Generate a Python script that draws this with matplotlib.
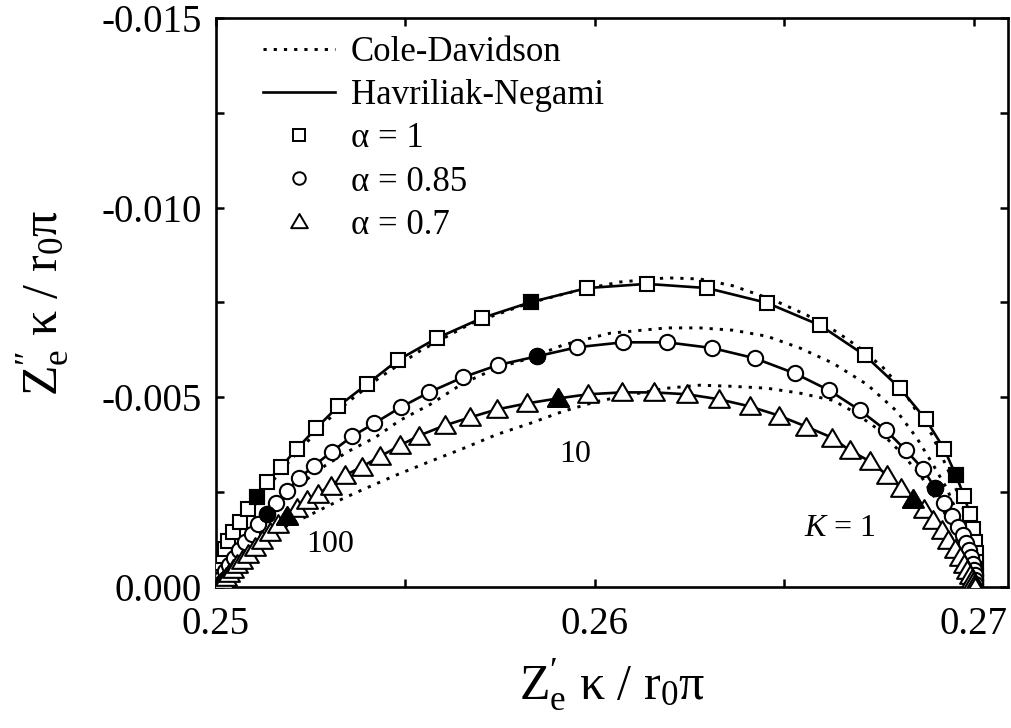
import matplotlib
matplotlib.use("Agg")
import matplotlib.pyplot as plt
from matplotlib.lines import Line2D
from matplotlib.path import Path
from matplotlib.ticker import FixedLocator, FormatStrFormatter
import numpy as np

plt.rcParams["font.family"] = ["Liberation Serif", "DejaVu Serif"]
plt.rcParams["mathtext.fontset"] = "custom"
plt.rcParams["mathtext.rm"] = "Liberation Serif"
plt.rcParams["mathtext.it"] = "Liberation Serif:italic"
plt.rcParams["axes.unicode_minus"] = False

# ---- Havriliak-Negami curves with computed points (alpha = 1, 0.85, 0.7) ----
sq_x = [0.25000, 0.25003, 0.25003, 0.25005, 0.25005, 0.25008, 0.25013, 0.25018,
        0.25024, 0.25032, 0.25045, 0.25063, 0.25084, 0.25108, 0.25135, 0.25172,
        0.25214, 0.25264, 0.25322, 0.25398, 0.25480, 0.25583, 0.25702, 0.25831,
        0.25979, 0.26137, 0.26296, 0.26454, 0.26594, 0.26712, 0.26805, 0.26873,
        0.26921, 0.26952, 0.26974, 0.26989, 0.26997, 0.27003, 0.27005, 0.27005,
        0.27005, 0.27005, 0.27005, 0.27005, 0.27005]
sq_y = [0.0, -0.00005, -0.00013, -0.00024, -0.00034, -0.00048, -0.00063, -0.00082,
        -0.00101, -0.00122, -0.00146, -0.00172, -0.00206, -0.00238, -0.00278, -0.00317,
        -0.00365, -0.00418, -0.00476, -0.00534, -0.00598, -0.00656, -0.00709, -0.00751,
        -0.00788, -0.00799, -0.00788, -0.00749, -0.00690, -0.00611, -0.00524, -0.00442,
        -0.00365, -0.00296, -0.00241, -0.00193, -0.00153, -0.00119, -0.00090, -0.00066,
        -0.00048, -0.00032, -0.00021, -0.00011, -0.00003]
sq_filled = [13, 23, 33]          # K = 100, 10, 1

ci_x = [0.25000, 0.25003, 0.25005, 0.25011, 0.25016, 0.25024, 0.25034, 0.25047,
        0.25061, 0.25077, 0.25095, 0.25111, 0.25135, 0.25158, 0.25187, 0.25219,
        0.25259, 0.25306, 0.25359, 0.25417, 0.25488, 0.25562, 0.25652, 0.25744,
        0.25847, 0.25953, 0.26074, 0.26190, 0.26309, 0.26422, 0.26528, 0.26617,
        0.26699, 0.26768, 0.26821, 0.26865, 0.26897, 0.26921, 0.26942, 0.26958,
        0.26971, 0.26979, 0.26987, 0.26992, 0.26997, 0.27000, 0.27003, 0.27003,
        0.27003]
ci_y = [0.0, -0.00005, -0.00013, -0.00019, -0.00026, -0.00042, -0.00058, -0.00077,
        -0.00098, -0.00119, -0.00140, -0.00167, -0.00193, -0.00222, -0.00254, -0.00286,
        -0.00320, -0.00357, -0.00397, -0.00431, -0.00474, -0.00513, -0.00553, -0.00585,
        -0.00608, -0.00632, -0.00645, -0.00645, -0.00630, -0.00603, -0.00563, -0.00519,
        -0.00466, -0.00413, -0.00360, -0.00312, -0.00262, -0.00222, -0.00188, -0.00159,
        -0.00138, -0.00116, -0.00098, -0.00079, -0.00061, -0.00045, -0.00032, -0.00019,
        -0.00008]
ci_filled = [12, 24, 36]

tr_x = [0.25003, 0.25008, 0.25013, 0.25018, 0.25026, 0.25034, 0.25045, 0.25055,
        0.25069, 0.25084, 0.25103, 0.25121, 0.25142, 0.25164, 0.25187, 0.25214,
        0.25240, 0.25269, 0.25303, 0.25340, 0.25385, 0.25433, 0.25485, 0.25536,
        0.25604, 0.25670, 0.25741, 0.25821, 0.25902, 0.25982, 0.26071, 0.26156,
        0.26243, 0.26327, 0.26409, 0.26485, 0.26557, 0.26625, 0.26673, 0.26726,
        0.26770, 0.26807, 0.26839, 0.26868, 0.26892, 0.26916, 0.26931, 0.26950,
        0.26963, 0.26974, 0.26982, 0.26989, 0.26995, 0.26997, 0.27000, 0.27003]
tr_y = [-0.00003, -0.00008, -0.00013, -0.00019, -0.00026, -0.00037, -0.00048, -0.00061,
        -0.00071, -0.00087, -0.00106, -0.00124, -0.00146, -0.00167, -0.00188, -0.00209,
        -0.00230, -0.00246, -0.00267, -0.00294, -0.00317, -0.00344, -0.00373, -0.00399,
        -0.00426, -0.00447, -0.00468, -0.00484, -0.00497, -0.00508, -0.00513, -0.00513,
        -0.00508, -0.00495, -0.00476, -0.00452, -0.00423, -0.00394, -0.00360, -0.00331,
        -0.00296, -0.00262, -0.00233, -0.00206, -0.00177, -0.00151, -0.00124, -0.00101,
        -0.00079, -0.00061, -0.00045, -0.00032, -0.00021, -0.00013, -0.00005, 0.0]
tr_filled = [14, 28, 42]

# ---- Cole-Davidson curves ----
cd1_x = [0.25000, 0.25005, 0.25013, 0.25024, 0.25037, 0.25055, 0.25079, 0.25116,
         0.25169, 0.25222, 0.25288, 0.25354, 0.25433, 0.25538, 0.25670, 0.25828,
         0.25960, 0.26066, 0.26190, 0.26277, 0.26364, 0.26470, 0.26559, 0.26639,
         0.26699, 0.26760, 0.26813, 0.26852, 0.26889, 0.26918, 0.26942, 0.26963,
         0.26979, 0.26989, 0.26997, 0.27003, 0.27005]
cd1_y = [0.0, -0.00021, -0.00045, -0.00071, -0.00101, -0.00138, -0.00177, -0.00235,
         -0.00304, -0.00362, -0.00434, -0.00492, -0.00553, -0.00622, -0.00693, -0.00749,
         -0.00783, -0.00804, -0.00815, -0.00812, -0.00794, -0.00757, -0.00717, -0.00672,
         -0.00630, -0.00579, -0.00519, -0.00458, -0.00402, -0.00339, -0.00286, -0.00233,
         -0.00185, -0.00138, -0.00093, -0.00048, 0.0]

cd2_x = [0.25000, 0.25008, 0.25018, 0.25032, 0.25050, 0.25071, 0.25095, 0.25127,
         0.25161, 0.25195, 0.25235, 0.25288, 0.25354, 0.25420, 0.25485, 0.25565,
         0.25652, 0.25741, 0.25828, 0.25916, 0.26040, 0.26190, 0.26277, 0.26364,
         0.26454, 0.26541, 0.26628, 0.26718, 0.26797, 0.26850, 0.26892, 0.26929,
         0.26955, 0.26976, 0.26989, 0.26997, 0.27003]
cd2_y = [0.0, -0.00019, -0.00040, -0.00063, -0.00093, -0.00124, -0.00153, -0.00188,
         -0.00217, -0.00246, -0.00280, -0.00320, -0.00360, -0.00394, -0.00439, -0.00481,
         -0.00537, -0.00577, -0.00603, -0.00638, -0.00669, -0.00683, -0.00683, -0.00677,
         -0.00661, -0.00630, -0.00590, -0.00534, -0.00463, -0.00392, -0.00323, -0.00259,
         -0.00198, -0.00146, -0.00093, -0.00048, 0.0]

cd3_x = [0.25000, 0.25011, 0.25032, 0.25063, 0.25103, 0.25142, 0.25187, 0.25248,
         0.25335, 0.25388, 0.25478, 0.25565, 0.25652, 0.25741, 0.25828, 0.25916,
         0.26005, 0.26100, 0.26190, 0.26277, 0.26364, 0.26454, 0.26541, 0.26628,
         0.26681, 0.26744, 0.26805, 0.26858, 0.26902, 0.26937, 0.26963, 0.26982,
         0.26995, 0.27003]
cd3_y = [0.0, -0.00013, -0.00034, -0.00066, -0.00103, -0.00135, -0.00161, -0.00190,
         -0.00233, -0.00257, -0.00296, -0.00331, -0.00365, -0.00402, -0.00431, -0.00463,
         -0.00489, -0.00508, -0.00524, -0.00532, -0.00529, -0.00524, -0.00511, -0.00492,
         -0.00463, -0.00418, -0.00357, -0.00296, -0.00228, -0.00172, -0.00119, -0.00077,
         -0.00040, 0.0]

legend_labels = ["Cole-Davidson", "Havriliak-Negami",
                 "\u03b1 = 1", "\u03b1 = 0.85", "\u03b1 = 0.7"]
k_labels = ["100", "10", "$\\mathit{K}$ = 1"]
k_label_pos = [(0.25301, -0.00111), (0.25947, -0.00349), (0.26646, -0.00153)]

x_major = [0.25, 0.26, 0.27]
x_minor = [0.255, 0.265]
y_major = [0.0, -0.005, -0.010, -0.015]
y_minor = [-0.0025, -0.0075, -0.0125]

# ---- drawing ----
fig = plt.figure(figsize=(10.12, 7.28), dpi=100)
ax = fig.add_axes([0.2134, 0.1937, 0.7826, 0.7816])

# slightly flattened open triangle (closed path so it can be filled)
tri = Path([(-1.0, -0.8), (1.0, -0.8), (0.0, 0.9), (-1.0, -0.8)],
           [Path.MOVETO, Path.LINETO, Path.LINETO, Path.CLOSEPOLY])
dot = (0, (1.1, 2.4))
LW = 1.9
MEW = 1.5

for x, y in [(cd1_x, cd1_y), (cd2_x, cd2_y), (cd3_x, cd3_y)]:
    ax.plot(x, y, color="black", lw=2.1, linestyle=dot, zorder=2)

series = [(sq_x, sq_y, sq_filled, "s", 9.5),
          (ci_x, ci_y, ci_filled, "o", 11.0),
          (tr_x, tr_y, tr_filled, tri, 15.0)]
for x, y, filled, mk, ms in series:
    x = np.asarray(x)
    y = np.asarray(y)
    ax.plot(x, y, color="black", lw=LW, zorder=3)
    ax.plot(x, y, linestyle="none", marker=mk, ms=ms, mfc="white",
            mec="black", mew=MEW, zorder=4)
    ax.plot(x[filled], y[filled], linestyle="none", marker=mk, ms=ms,
            mfc="black", mec="black", mew=MEW, zorder=5)

for txt, (tx, ty) in zip(k_labels, k_label_pos):
    ax.text(tx, ty, txt, fontsize=23, ha="center", va="center", zorder=6)

ax.set_xlim(0.25, 0.2709)
ax.set_ylim(0.0, -0.015)

ax.xaxis.set_major_locator(FixedLocator(x_major))
ax.xaxis.set_minor_locator(FixedLocator(x_minor))
ax.yaxis.set_major_locator(FixedLocator(y_major))
ax.yaxis.set_minor_locator(FixedLocator(y_minor))
ax.xaxis.set_major_formatter(FormatStrFormatter("%.2f"))
ax.yaxis.set_major_formatter(FormatStrFormatter("%.3f"))

ax.tick_params(which="both", direction="in", top=True, right=True,
               width=1.8, labelsize=28, length=6)
ax.tick_params(axis="x", which="both", pad=14)
ax.tick_params(axis="y", which="both", pad=10)
for sp in ax.spines.values():
    sp.set_linewidth(1.9)

ax.set_xlabel("$\\mathrm{Z}_{\\mathrm{e}}^{\\mathrm{\u2032}}$ \u03ba / r$_{0}$\u03c0",
              fontsize=36, labelpad=10)
ax.set_ylabel("$\\mathrm{Z}_{\\mathrm{e}}^{\\mathrm{\u2033}}$ \u03ba / r$_{0}$\u03c0",
              fontsize=36, labelpad=22)

handles = [
    Line2D([], [], color="black", lw=2.1, linestyle=dot),
    Line2D([], [], color="black", lw=LW),
    Line2D([], [], linestyle="none", marker="s", ms=8, mfc="white", mec="black", mew=1.4),
    Line2D([], [], linestyle="none", marker="o", ms=9, mfc="white", mec="black", mew=1.4),
    Line2D([], [], linestyle="none", marker=tri, ms=12, mfc="white", mec="black", mew=1.4),
]
ax.legend(handles, legend_labels, loc="upper left", bbox_to_anchor=(0.05, 0.98),
          frameon=False, fontsize=25, handlelength=2.1, handletextpad=0.45,
          labelspacing=0.29, borderaxespad=0.0, borderpad=0.2)

fig.savefig("out.png", dpi=100)
